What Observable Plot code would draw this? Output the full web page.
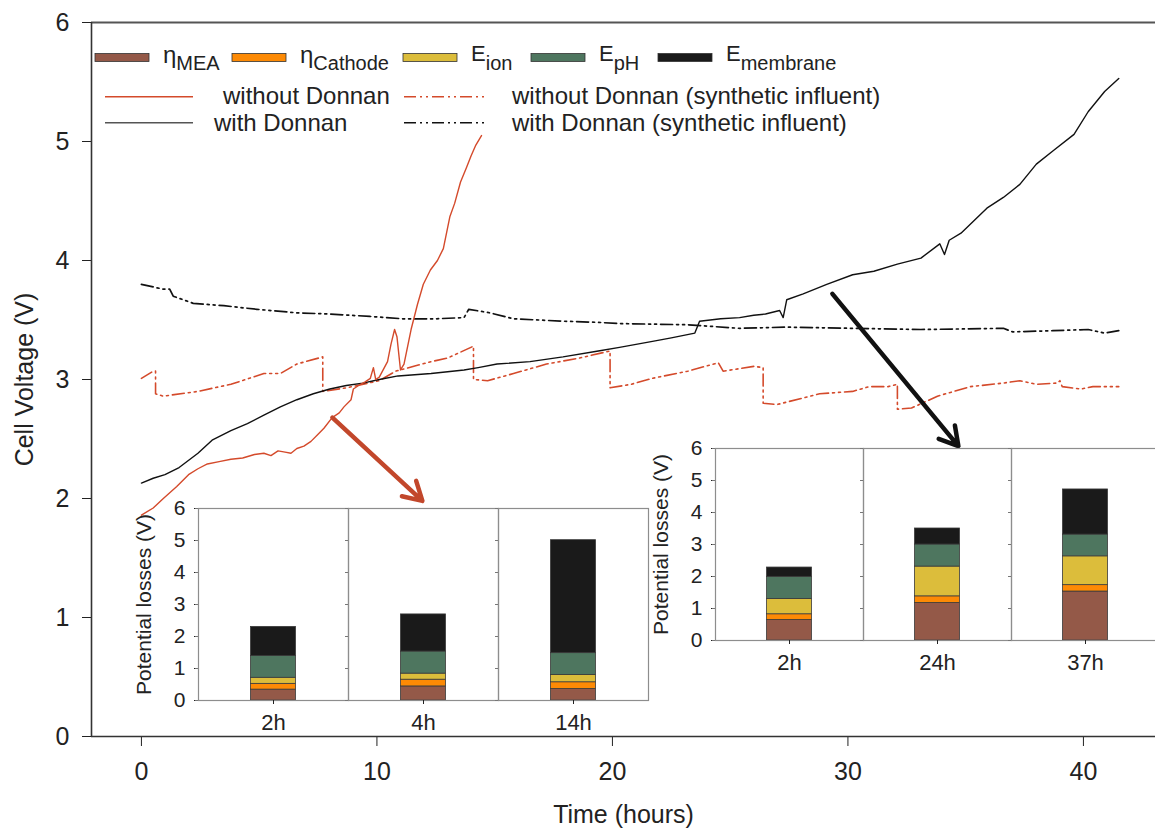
<!DOCTYPE html>
<html>
<head>
<meta charset="utf-8">
<script src="https://cdn.jsdelivr.net/npm/d3@7"></script>
<script src="https://cdn.jsdelivr.net/npm/@observablehq/plot@0.6"></script>
<style>
  html, body { margin: 0; padding: 0; background: #fff; overflow: hidden; }
  #wrap { position: relative; width: 1155px; height: 830px; overflow: hidden; }
  #wrap > svg, #wrap > figure { position: absolute; margin: 0; }
</style>
</head>
<body>
<div id="wrap"></div>
<script>
// ---------- data ----------
const xTicks = [0, 10, 20, 30, 40];
const yTicks = [0, 1, 2, 3, 4, 5, 6];
const xDomain = [-2.12, 43.06];
const yDomain = [0, 6];

// without Donnan (solid red)
const tRed = [0, 0.5, 0.93, 1.5, 2.0, 2.4, 2.8, 3.3, 3.8, 4.3, 4.8, 5.2, 5.5, 5.8, 6.1, 6.35, 6.6, 6.9, 7.2, 7.5, 7.75, 8.1, 8.4, 8.6, 8.9, 9.0, 9.3, 9.5, 9.72, 9.85, 9.95, 10.1, 10.45, 10.6, 10.75, 10.85, 11.0, 11.15, 11.45, 11.72, 11.97, 12.27, 12.57, 12.82, 13.1, 13.3, 13.55, 13.8, 14.0, 14.2, 14.44];
const vRed = [1.86, 1.92, 2.0, 2.1, 2.2, 2.25, 2.29, 2.31, 2.33, 2.34, 2.37, 2.38, 2.36, 2.40, 2.39, 2.38, 2.42, 2.44, 2.48, 2.54, 2.59, 2.68, 2.72, 2.77, 2.83, 2.92, 2.96, 2.98, 3.01, 3.10, 3.00, 3.02, 3.15, 3.30, 3.42, 3.36, 3.08, 3.13, 3.42, 3.63, 3.80, 3.92, 4.00, 4.10, 4.37, 4.48, 4.66, 4.78, 4.88, 4.97, 5.05];

// with Donnan (solid black)
const tBlack = [0, 0.5, 1.0, 1.6, 2.4, 3.0, 3.8, 4.5, 5.2, 5.9, 6.6, 7.3, 8.0, 8.7, 9.4, 10.1, 10.9, 12.3, 13.7, 14.3, 15.1, 16.5, 17.9, 19.4, 20.3, 21.7, 22.5, 23.5, 23.7, 24.6, 25.4, 26.0, 26.5, 27.1, 27.25, 27.4, 28.1, 29.1, 30.2, 31.1, 32.1, 33.1, 33.9, 34.1, 34.3, 34.8, 35.9, 36.6, 37.3, 38.0, 38.7, 39.6, 40.2, 40.9, 41.5];
const vBlack = [2.13, 2.17, 2.20, 2.26, 2.38, 2.49, 2.57, 2.63, 2.70, 2.77, 2.83, 2.88, 2.92, 2.95, 2.97, 3.00, 3.03, 3.05, 3.08, 3.10, 3.13, 3.15, 3.19, 3.24, 3.27, 3.32, 3.35, 3.39, 3.49, 3.51, 3.52, 3.54, 3.55, 3.58, 3.52, 3.67, 3.72, 3.80, 3.88, 3.91, 3.97, 4.02, 4.14, 4.05, 4.17, 4.23, 4.44, 4.53, 4.64, 4.81, 4.92, 5.06, 5.25, 5.42, 5.53];

// with Donnan (synthetic influent), black dash-dot
const tBlackSyn = [0, 0.9, 1.2, 1.35, 2.2, 3.5, 4.9, 6.6, 8.0, 9.7, 11.1, 12.5, 13.7, 13.9, 14.8, 15.8, 17.9, 19.4, 20.3, 23.2, 25.4, 27.4, 30.2, 33.1, 36.6, 37.0, 38.7, 40.2, 40.9, 41.5];
const vBlackSyn = [3.80, 3.76, 3.76, 3.70, 3.64, 3.62, 3.59, 3.56, 3.55, 3.53, 3.51, 3.51, 3.52, 3.59, 3.56, 3.51, 3.49, 3.48, 3.47, 3.46, 3.43, 3.44, 3.43, 3.42, 3.43, 3.40, 3.41, 3.42, 3.39, 3.41];

// without Donnan (synthetic influent), red dash-dot
const tRedSyn = [0, 0.5, 0.6, 0.6, 0.93, 2.4, 3.8, 5.2, 5.9, 6.6, 7.7, 7.7, 8.7, 10.1, 10.8, 12.3, 13.0, 14.1, 14.1, 14.7, 15.8, 17.2, 18.6, 19.9, 19.9, 20.8, 21.7, 23.2, 24.3, 24.5, 24.7, 26.0, 26.4, 26.4, 27.0, 28.8, 30.2, 30.9, 31.7, 32.1, 32.1, 32.7, 33.8, 35.2, 36.6, 37.3, 38.0, 38.9, 39.0, 39.1, 39.9, 40.4, 41.5];
const vRedSyn = [3.01, 3.07, 3.07, 2.88, 2.86, 2.90, 2.96, 3.05, 3.05, 3.13, 3.19, 2.90, 2.93, 2.99, 3.07, 3.15, 3.18, 3.28, 3.00, 2.99, 3.05, 3.13, 3.18, 3.24, 2.93, 2.96, 3.01, 3.07, 3.13, 3.14, 3.07, 3.11, 3.10, 2.80, 2.79, 2.88, 2.90, 2.94, 2.94, 2.96, 2.75, 2.76, 2.86, 2.94, 2.97, 2.99, 2.96, 2.97, 2.99, 2.94, 2.92, 2.94, 2.94];

// arrows (data coordinates)
const redArrow = { x1: [8.11], y1: [2.68], x2: [11.93], y2: [1.98] };
const blackArrow = { x1: [29.34], y1: [3.72], x2: [34.69], y2: [2.44] };

// inset bars: stacked components (increments, V)
const components = ["ηMEA", "ηCathode", "Eion", "EpH", "Emembrane"];
const compColors = ["#945948", "#fd8a05", "#dcbd3b", "#4e765f", "#1a1a1a"];
const catsLeft = ["2h", "4h", "14h"];
const leftMEA = [0.34, 0.44, 0.36];
const leftCathode = [0.18, 0.21, 0.21];
const leftIon = [0.19, 0.19, 0.23];
const leftPH = [0.68, 0.69, 0.68];
const leftMembrane = [0.91, 1.16, 3.53];
const catsRight = ["2h", "24h", "37h"];
const rightMEA = [0.64, 1.17, 1.53];
const rightCathode = [0.18, 0.21, 0.20];
const rightIon = [0.48, 0.93, 0.90];
const rightPH = [0.69, 0.69, 0.68];
const rightMembrane = [0.29, 0.50, 1.41];
const insetTicks = [0, 1, 2, 3, 4, 5, 6];

// ---------- styles ----------
const FONT = "'Liberation Sans', Arial, Helvetica, sans-serif";
const RED = "#d44a2b";
const BLACK = "#111";
const DASHDOT = "12,4,2,4,2,4";

const wrap = document.getElementById("wrap");

// ---------- main chart ----------
const main = Plot.plot({
  width: 1155, height: 830,
  marginTop: 22, marginBottom: 94, marginLeft: 91, marginRight: 0,
  style: { fontFamily: FONT, fontSize: "25px", color: "#222", background: "transparent", overflow: "visible" },
  x: { domain: xDomain, ticks: xTicks, tickFormat: "d", tickSize: 10, tickPadding: 16, label: "Time (hours)", labelAnchor: "center", labelOffset: 86, labelArrow: "none" },
  y: { domain: yDomain, ticks: yTicks, tickFormat: "d", tickSize: 9, tickPadding: 13, label: "Cell Voltage (V)", labelAnchor: "center", labelOffset: 76, labelArrow: "none" },
  marks: [
    Plot.ruleY([yDomain[0]], { stroke: "#333", strokeWidth: 1.6 }),
    Plot.ruleY([yDomain[1]], { stroke: "#555", strokeWidth: 1.8 }),
    Plot.ruleX([xDomain[0]], { stroke: "#333", strokeWidth: 1.6 }),
    Plot.line(tRedSyn, { x: tRedSyn, y: vRedSyn, stroke: RED, strokeWidth: 1.6, strokeDasharray: DASHDOT }),
    Plot.line(tBlackSyn, { x: tBlackSyn, y: vBlackSyn, stroke: BLACK, strokeWidth: 1.7, strokeDasharray: DASHDOT }),
    Plot.line(tBlack, { x: tBlack, y: vBlack, stroke: BLACK, strokeWidth: 1.4 }),
    Plot.line(tRed, { x: tRed, y: vRed, stroke: RED, strokeWidth: 1.4 }),
    Plot.arrow(redArrow.x1, { x1: redArrow.x1, y1: redArrow.y1, x2: redArrow.x2, y2: redArrow.y2, stroke: "#c2472b", strokeWidth: 4.5, headLength: 7 }),
    Plot.arrow(blackArrow.x1, { x1: blackArrow.x1, y1: blackArrow.y1, x2: blackArrow.x2, y2: blackArrow.y2, stroke: "#111", strokeWidth: 4.5, headLength: 7 })
  ]
});
main.style.left = "0px"; main.style.top = "0px";
wrap.appendChild(main);

// ---------- insets ----------
function inset(cats, parts, left, top, marginLeft, panelW) {
  const rows = [];
  cats.forEach((c, i) => parts.forEach((arr, k) => rows.push({ cat: c, comp: components[k], v: arr[i] })));
  const pad = (panelW - 45) / 2;
  const chart = Plot.plot({
    width: marginLeft + panelW * cats.length + 2, height: 250,
    marginTop: 18, marginBottom: 40, marginLeft, marginRight: 2,
    style: { fontFamily: FONT, fontSize: "20px", color: "#222", background: "transparent", overflow: "visible" },
    fx: { domain: cats, padding: 0, label: null },
    y: { domain: [0, 6] },
    color: { domain: components, range: compColors },
    marks: [
      Plot.barY(rows, { fx: "cat", y: "v", fill: "comp", stroke: "#3a3a3a", strokeWidth: 0.8, insetLeft: pad, insetRight: pad }),
      Plot.frame({ stroke: "#8d8d8d", strokeWidth: 1.2 }),
      Plot.axisY({ ticks: insetTicks, tickFormat: "d", tickSize: 4, tickPadding: 9, fontSize: 21, label: "Potential losses (V)", labelAnchor: "center", labelOffset: 62, labelArrow: "none" }),
      Plot.axisY({ ticks: insetTicks, tickSize: 3, tickFormat: () => "", label: null, facetAnchor: null, stroke: "#777" }),
      Plot.axisFx({ anchor: "bottom", tickSize: 4, tickPadding: 10, fontSize: 22, label: null })
    ]
  });
  chart.style.left = left + "px"; chart.style.top = top + "px";
  wrap.appendChild(chart);
}
inset(catsLeft, [leftMEA, leftCathode, leftIon, leftPH, leftMembrane], 130, 490, 68, 150);
inset(catsRight, [rightMEA, rightCathode, rightIon, rightPH, rightMembrane], 650, 430, 65, 148);

// ---------- legend (overlay) ----------
const lg = d3.select(wrap).append("svg")
  .attr("width", 1155).attr("height", 150)
  .style("left", "0px").style("top", "0px")
  .style("font-family", FONT).style("fill", "#222");

const swX = [95, 232, 403, 531, 658];
const mainSym = ["η", "η", "E", "E", "E"];
const subs = ["MEA", "Cathode", "ion", "pH", "membrane"];
components.forEach((c, k) => {
  lg.append("rect").attr("x", swX[k]).attr("y", 53.5).attr("width", 54).attr("height", 8)
    .attr("fill", compColors[k]).attr("stroke", "#333").attr("stroke-width", 0.8);
  const isEta = mainSym[k] === "η";
  const t = lg.append("text").attr("x", swX[k] + 68).attr("y", isEta ? 63 : 61);
  t.append("tspan").attr("font-size", isEta ? 24 : 22).text(mainSym[k]);
  t.append("tspan").attr("font-size", 20).attr("dy", isEta ? 7 : 9).text(subs[k]);
});

const lineRows = [
  { x1: 105, x2: 193, y: 96.7, stroke: RED, dash: null, tx: 223, ty: 104, label: "without Donnan" },
  { x1: 105, x2: 193, y: 122.7, stroke: "#555", dash: null, tx: 214, ty: 130.5, label: "with Donnan" },
  { x1: 404, x2: 488, y: 96.7, stroke: RED, dash: DASHDOT, tx: 512, ty: 104, label: "without Donnan (synthetic influent)" },
  { x1: 404, x2: 488, y: 122.7, stroke: BLACK, dash: DASHDOT, tx: 512, ty: 130.5, label: "with Donnan (synthetic influent)" }
];
lineRows.forEach(r => {
  lg.append("line").attr("x1", r.x1).attr("x2", r.x2).attr("y1", r.y).attr("y2", r.y)
    .attr("stroke", r.stroke).attr("stroke-width", 1.4).attr("stroke-dasharray", r.dash);
  lg.append("text").attr("x", r.tx).attr("y", r.ty).attr("font-size", 24).text(r.label);
});
</script>
</body>
</html>
